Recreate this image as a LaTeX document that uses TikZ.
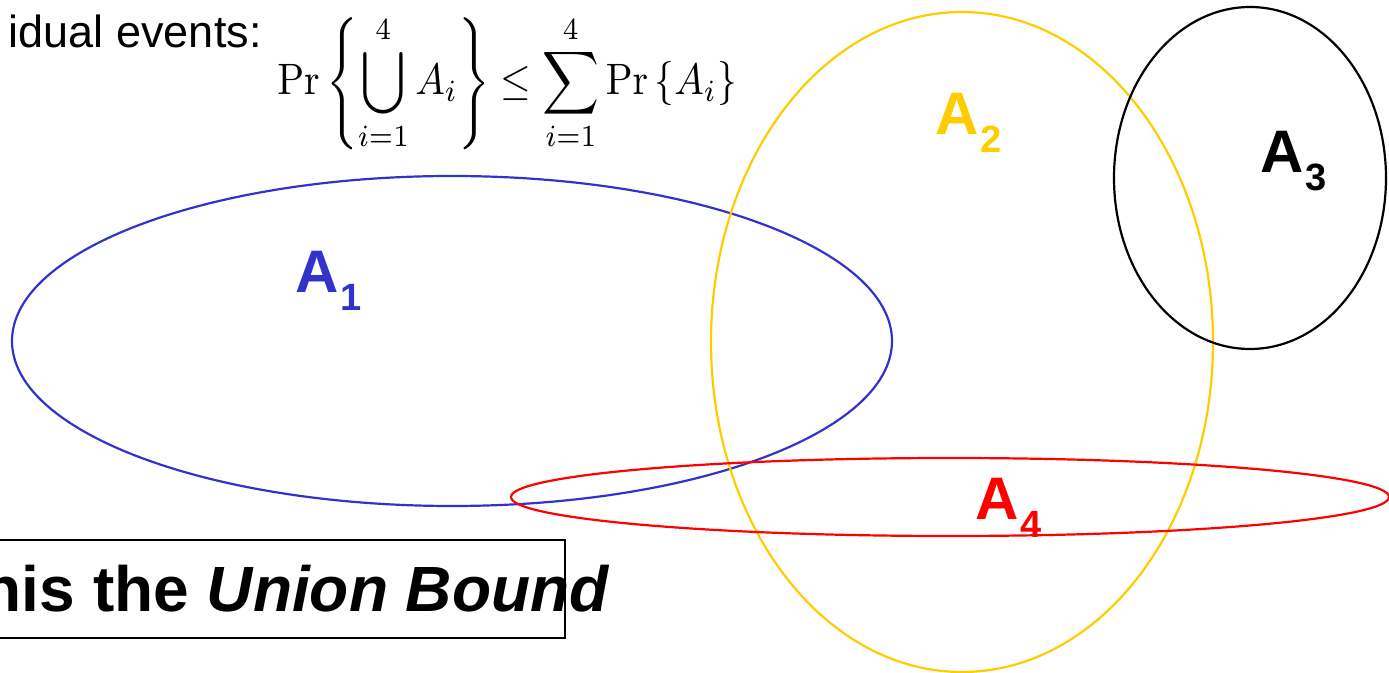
\documentclass[tikz,border=0pt]{standalone}
\usepackage{amsmath,amssymb}
\usepackage[no-math]{fontspec}
\setmainfont{Liberation Sans}
\usepackage{tikz}
\usetikzlibrary{positioning}
\definecolor{cEvA}{RGB}{51,51,204}
\definecolor{cEvB}{RGB}{255,204,0}
\definecolor{cEvD}{RGB}{255,0,0}
\newcommand{\evname}[1]{A\hspace{1pt}\raisebox{-9pt}{\fontsize{19}{19}\selectfont #1}}

\begin{document}
\begin{tikzpicture}[x=0.5pt,y=-0.5pt,
   ev/.style={line width=1.1pt},
   evlbl/.style={anchor=base west,inner sep=0pt,font=\fontsize{30}{34}\selectfont\bfseries}]
 \clip (0,0) rectangle (1389,673);
 % text at the top
 \node[anchor=base east,inner sep=0pt,font=\fontsize{22.5}{27}\selectfont] (intro) at (262,48) {idual events:};
 \node[inner sep=0pt,xscale=1.97,yscale=2.2,transform shape] (ubound) at (507,83)
   {$\displaystyle \mathrm{Pr}\left\{\bigcup_{i=1}^{4}A_i\right\}\le\sum_{i=1}^{4}\mathrm{Pr}\left\{A_i\right\}$};
 % the four events
 \draw[ev,cEvA] (452,341) ellipse [x radius=440, y radius=165];
 \draw[ev,cEvB] (962,342) ellipse [x radius=251, y radius=330];
 \draw[ev,black] (1250,178) ellipse [x radius=136, y radius=171];
 \draw[ev,cEvD] (950,497) ellipse [x radius=439, y radius=39];
 \node[evlbl,text=cEvA] (lA1) at (295,293) {\evname{1}};
 \node[evlbl,text=cEvB] (lA2) at (935,135) {\evname{2}};
 \node[evlbl,text=black] (lA3) at (1260,173) {\evname{3}};
 \node[evlbl,text=cEvD] (lA4) at (975,520) {\evname{4}};
 % boxed remark
 \draw[line width=1.1pt] (-4,540) rectangle (565,638);
 \node[anchor=base east,inner sep=0pt,font=\fontsize{32}{36}\selectfont\bfseries] (remark) at (610,612)
   {his the \textit{Union Bound}};
\end{tikzpicture}
\end{document}
